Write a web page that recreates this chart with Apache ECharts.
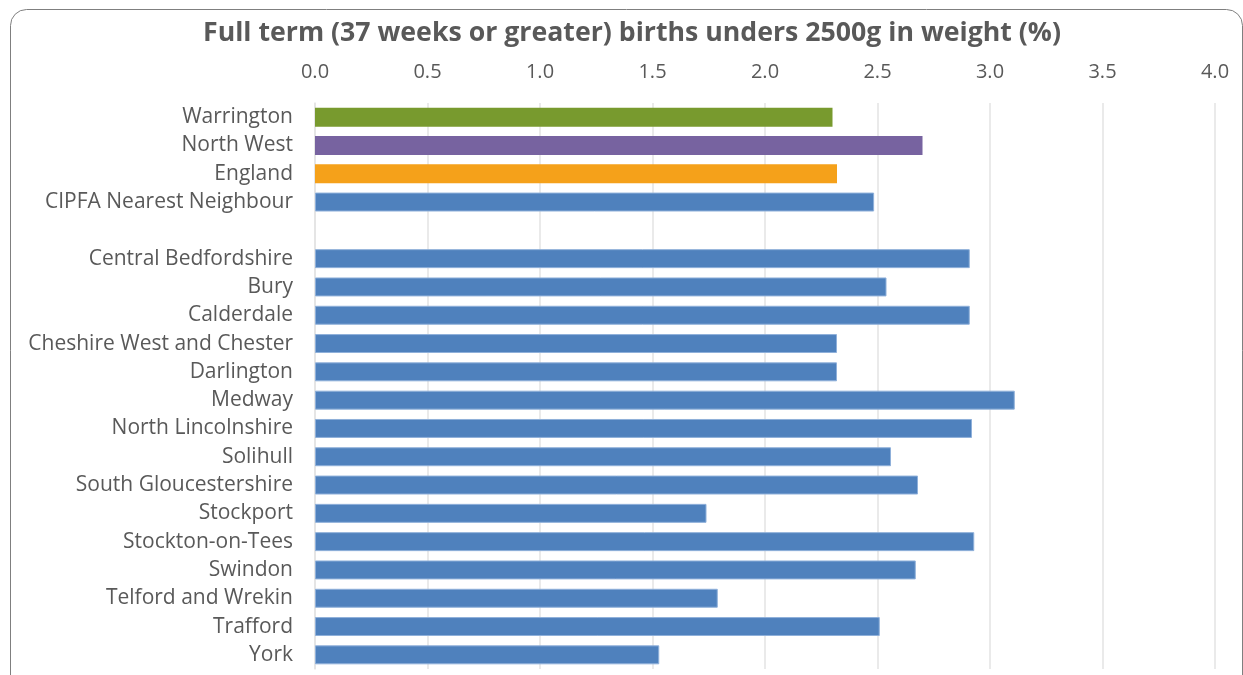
<!DOCTYPE html>
<html>
<head>
<meta charset="utf-8">
<script src="https://cdn.jsdelivr.net/npm/echarts@6/dist/echarts.min.js"></script>
<style>
html,body{margin:0;padding:0;background:#fff;}
#chart{width:1243px;height:675px;}
</style>
</head>
<body>
<div id="chart"></div>
<script>
const title = 'Full term (37 weeks or greater) births unders 2500g in weight (%)';
const categories = ['Warrington','North West','England','CIPFA Nearest Neighbour','',
  'Central Bedfordshire','Bury','Calderdale','Cheshire West and Chester','Darlington','Medway',
  'North Lincolnshire','Solihull','South Gloucestershire','Stockport','Stockton-on-Tees','Swindon',
  'Telford and Wrekin','Trafford','York'];
const values = [2.30,2.70,2.32,2.485,null,
  2.91,2.54,2.91,2.32,2.32,3.11,
  2.92,2.56,2.68,1.74,2.93,2.67,
  1.79,2.51,1.53];
const xTicks = [0,0.5,1,1.5,2,2.5,3,3.5,4];

const defaultColor = '#4F81BD';
const highlight = {'Warrington':'#789A2E','North West':'#7763A0','England':'#F5A11A'};

const chart = echarts.init(document.getElementById('chart'), null, {renderer:'canvas'});
const font = '"Open Sans", sans-serif';
chart.setOption({
  animation:false,
  graphic:[{type:'rect',left:8,top:7,shape:{width:1232,height:700,r:16},
    style:{fill:'none',stroke:'#7f7f7f',lineWidth:1},silent:true}],
  title:{text:title,left:198,top:15,
    textStyle:{fontFamily:font,fontWeight:'bold',fontSize:26.7,color:'#595959'}},
  grid:{left:315,right:28,top:103,bottom:6,containLabel:false},
  xAxis:{type:'value',position:'top',min:xTicks[0],max:xTicks[xTicks.length-1],interval:0.5,
    axisLine:{show:false},axisTick:{show:false},
    axisLabel:{margin:21,fontFamily:font,fontSize:20,color:'#595959',formatter:v=>v.toFixed(1)},
    splitLine:{lineStyle:{color:'#e3e3e3',width:1.5}}},
  yAxis:{type:'category',data:categories,inverse:true,
    axisLine:{show:true,lineStyle:{color:'#e3e3e3',width:1.5}},axisTick:{show:false},
    axisLabel:{margin:22,fontFamily:font,fontSize:21,color:'#595959'}},
  series:[{type:'bar',barCategoryGap:'33%',
    data:values.map((v,i)=>({value:v,itemStyle:{color:highlight[categories[i]]||defaultColor,
      borderColor:highlight[categories[i]]?'transparent':'#8fb0da',borderWidth:highlight[categories[i]]?0:1}}))}]
});
</script>
</body>
</html>
